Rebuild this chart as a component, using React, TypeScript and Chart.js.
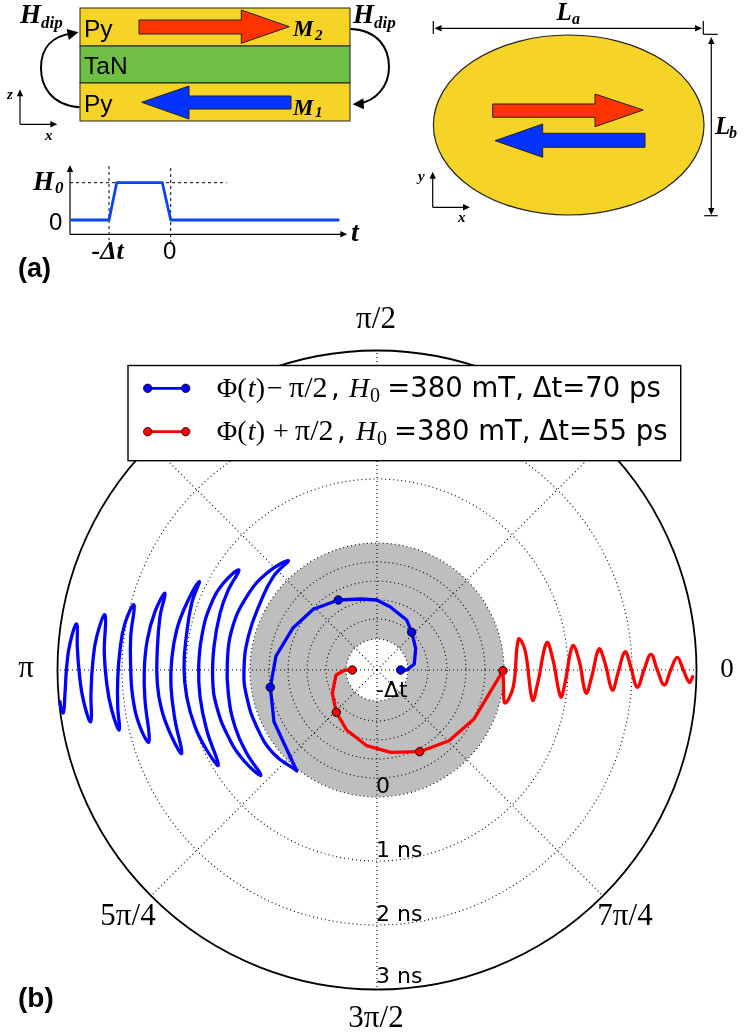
import { useEffect, useRef } from "react";
import { Chart, registerables } from "chart.js";

Chart.register(...registerables);

// Trajectories in polar-plot plane units (pole at 0,0; 1 unit of plane = one screen pixel at this size)
const blueSpiralX = [23.7, 29.7, 37.3, 38.7, 34.7, 29.7, 13, -0.3, -15.3, -38.7, -63.7, -84.3, -101, -106.7, -103, -80.3];
const blueSpiralY = [0, 0, 6, 21.7, 37.7, 50, 63.3, 70, 71, 70, 60.7, 41.7, 14, -17.3, -51.7, -100.7];
const blueMarks = [0, 4, 9, 13];

const blueTailX = [-80.3, -103.7, -120.3, -130.3, -133, -128.7, -117, -103.7, -88.7, -110.3, -130.3, -145.3, -149.7, -148.7, -142, -130.3, -116, -133.7, -148.7, -160.3, -164.3, -163, -157, -148.7, -138, -153.7, -167, -175.3, -178.3, -177, -170.3, -158.7, -170.3, -182, -190.3, -193, -190.3, -185.3, -177.7, -190.3, -200.3, -205.3, -206, -202, -195.3, -205.3, -215.3, -219.7, -219.7, -217, -212, -222, -229.7, -232.7, -232, -228, -237, -244.3, -246.3, -246.3, -243, -252, -257, -259.3, -259.3, -257.7, -265.3, -270.3, -272.7, -272, -280.3, -284.3, -286, -286.3, -293.7, -297.7, -299.7, -300.3, -307, -310.3, -312, -313.7, -316.3, -317];
const blueTailY = [-100.7, -83.3, -56.7, -26.7, 0, 33.3, 66.7, 93.3, 109.3, 96.7, 73.3, 40, 6.7, -23.3, -56.7, -83.3, -105.3, -90, -66.7, -36.7, -10, 23.3, 56.7, 80, 100, 86.7, 63.3, 33.3, 3.3, -26.7, -60, -95, -80, -56.7, -26.7, 3.3, 36.7, 66.7, 88.3, 66.7, 40, 10, -16.7, -50, -83.3, -66.7, -40, -13.3, 20, 53.3, 76.7, 58.3, 30, 0, -30, -71.7, -56.7, -26.7, 3.3, 33.3, 65, 46.7, 20, -10, -36.7, -60, -40, -13.3, 16.7, 55, 33.3, 6.7, -23.3, -51.7, -30, -3.3, 23.3, 46, 26.7, 3.3, -23.3, -42.7, -36.7, -31.7];

const redSpiralX = [-24.7, -32, -41, -44.7, -40.7, -30.3, -10.3, 13.7, 42.7, 72, 97, 126];
const redSpiralY = [0, 0, -5, -23.3, -42.3, -60, -75.7, -82.3, -81.7, -70.7, -49, -0.7];
const redMarks = [0, 4, 8, 11];

const redTailX = [126, 126.5, 128, 136.3, 141.5, 148, 155.5, 161, 169.7, 176, 183.7, 188, 195.7, 202, 209, 214.7, 222, 228, 235.3, 241, 248, 253.7, 260.3, 267, 274, 280.3, 287.3, 293.7, 300.3, 306.3, 312.3, 315.7];
const redTailY = [-0.7, -13, -33, -16.7, 30.7, 20, -30, -11.7, 27.3, 10, -26.7, -13, 24.3, 10, -23, -6.7, 21, 7, -20, -3, 18.3, 3.3, -17.3, 0, 15.7, 0, -15, 0, 12.7, 0, -12.3, -6.7];

// Field pulse: time in units of delta-t, field in units of H0
const pulseTime = [-1.606, -1, -0.876, -0.136, 0, 2.716];
const pulseField = [0, 0, 1, 1, 0, 0];

const blue = "#0000FF";
const red = "#FF0000";
const ringRadii = [31, 51, 70, 89, 108, 127, 191, 255];
const outerRadius = 319.5;
const spokeAngles = [0, 45, 90, 135, 180, 225, 270, 315];

const sans = "'DejaVu Sans'";
const helv = "'Liberation Sans'";
const serif = "'Liberation Serif'";

function zip(xs: number[], ys: number[]) {
  return xs.map((x, i) => ({ x, y: ys[i] }));
}

const overlay = {
  id: "overlay",
  beforeDatasetsDraw(chart: any) {
    const c: CanvasRenderingContext2D = chart.ctx;
    const sx = chart.scales.x;
    const sy = chart.scales.y;
    const cx = sx.getPixelForValue(0);
    const cy = sy.getPixelForValue(0);
    const px = (v: number) => sx.getPixelForValue(v) - cx;
    c.save();
    // annulus
    c.fillStyle = "#BEBEBE";
    c.beginPath();
    c.arc(cx, cy, px(127), 0, Math.PI * 2);
    c.arc(cx, cy, px(31), 0, Math.PI * 2, true);
    c.fill();
    // rings and spokes
    c.strokeStyle = "#000";
    c.lineWidth = 1.1;
    c.setLineDash([1, 3]);
    ringRadii.forEach((r) => {
      c.beginPath();
      c.arc(cx, cy, px(r), 0, Math.PI * 2);
      c.stroke();
    });
    spokeAngles.forEach((a) => {
      const t = (a * Math.PI) / 180;
      c.beginPath();
      c.moveTo(cx, cy);
      c.lineTo(cx + px(outerRadius) * Math.cos(t), cy - px(outerRadius) * Math.sin(t));
      c.stroke();
    });
    c.setLineDash([]);
    c.lineWidth = 1.8;
    c.beginPath();
    c.arc(cx, cy, px(outerRadius), 0, Math.PI * 2);
    c.stroke();
    drawSchematic(c);
    c.restore();
  },
  afterDatasetsDraw(chart: any) {
    const c: CanvasRenderingContext2D = chart.ctx;
    c.save();
    drawLegend(c);
    drawPolarLabels(c);
    c.restore();
  },
};

function text(c: CanvasRenderingContext2D, s: string, x: number, y: number, font: string, align: CanvasTextAlign = "left") {
  c.font = font;
  c.fillStyle = "#000";
  c.textAlign = align;
  c.textBaseline = "alphabetic";
  c.fillText(s, x, y);
}

function block(c: CanvasRenderingContext2D, pts: number[][], fill: string) {
  c.beginPath();
  pts.forEach((p, i) => (i ? c.lineTo(p[0], p[1]) : c.moveTo(p[0], p[1])));
  c.closePath();
  c.fillStyle = fill;
  c.fill();
  c.strokeStyle = "#222";
  c.lineWidth = 1;
  c.stroke();
}

function head(c: CanvasRenderingContext2D, x: number, y: number, angle: number, len = 7, half = 3.2) {
  c.save();
  c.translate(x, y);
  c.rotate(angle);
  c.beginPath();
  c.moveTo(0, 0);
  c.lineTo(-len, -half);
  c.lineTo(-len, half);
  c.closePath();
  c.fillStyle = "#000";
  c.fill();
  c.restore();
}

function seg(c: CanvasRenderingContext2D, x1: number, y1: number, x2: number, y2: number) {
  c.beginPath();
  c.moveTo(x1, y1);
  c.lineTo(x2, y2);
  c.stroke();
}

function drawSchematic(c: CanvasRenderingContext2D) {
  const yellow = "#F5D327";
  const green = "#6FBF44";
  const rred = "#FF3300";
  const rblue = "#0433FF";
  const rect = (x: number, y: number, w: number, h: number, f: string) => {
    c.fillStyle = f;
    c.fillRect(x, y, w, h);
    c.strokeStyle = "#222";
    c.lineWidth = 1;
    c.strokeRect(x, y, w, h);
  };
  rect(80, 8, 270, 38, yellow);
  rect(80, 46, 270, 37, green);
  rect(80, 83, 270, 38, yellow);
  block(c, [[139, 20], [241.3, 20], [241.3, 10], [289.3, 26.7], [241.3, 43.3], [241.3, 34], [139, 34]], rred);
  block(c, [[141.7, 102.3], [189, 86], [189, 96], [291, 96], [291, 109], [189, 109], [189, 119]], rblue);

  text(c, "Py", 84, 36.5, `24.5px ${helv}`);
  text(c, "TaN", 84, 74, `24.5px ${helv}`);
  text(c, "Py", 84, 111.5, `24.5px ${helv}`);

  const bi = (s: number) => `italic bold ${s}px ${serif}`;
  text(c, "H", 20, 23, bi(27));
  text(c, "dip", 41, 28, bi(17));
  text(c, "H", 353, 23, bi(27));
  text(c, "dip", 374, 28, bi(17));
  text(c, "M", 293, 36, bi(23));
  text(c, "2", 315, 40, bi(15));
  text(c, "M", 293, 115, bi(23));
  text(c, "1", 315, 117, bi(15));

  // H_dip loops
  c.strokeStyle = "#000";
  c.lineWidth = 2;
  c.beginPath();
  c.moveTo(79.5, 107.3);
  c.bezierCurveTo(50, 105, 41, 85, 41, 68);
  c.bezierCurveTo(41, 48, 52, 36, 72, 33.5);
  c.stroke();
  head(c, 78.5, 32.3, -0.2, 11, 5.5);
  c.beginPath();
  c.moveTo(350.5, 29);
  c.bezierCurveTo(378, 30, 389, 48, 389, 67);
  c.bezierCurveTo(389, 86, 376, 101, 359, 103.5);
  c.stroke();
  head(c, 352.7, 104.3, Math.PI - 0.05, 11, 5.5);

  // z-x triad
  c.lineWidth = 1.2;
  seg(c, 20, 124.3, 20, 93);
  seg(c, 20, 124.3, 54, 124.3);
  head(c, 20, 89.3, -Math.PI / 2);
  head(c, 57.3, 124.3, 0);
  text(c, "z", 7, 99, `italic bold 15px ${serif}`);
  text(c, "x", 45, 140, `italic bold 15px ${serif}`);

  // pulse axes
  seg(c, 70, 234.3, 70, 170);
  seg(c, 70, 234.3, 343, 234.3);
  head(c, 70, 165, -Math.PI / 2);
  head(c, 347.3, 234.3, 0);
  c.setLineDash([3, 3]);
  c.lineWidth = 1;
  seg(c, 109, 166, 109, 240);
  seg(c, 170.7, 168, 170.7, 243);
  seg(c, 70, 182.7, 226.7, 182.7);
  c.setLineDash([]);
  text(c, "H", 33, 190, bi(27));
  text(c, "0", 55, 193, bi(17));
  text(c, "0", 49, 230, `24px ${helv}`);
  text(c, "-Δt", 91.5, 259, `italic bold 26px ${serif}`);
  text(c, "0", 163, 259, `24px ${helv}`);
  text(c, "t", 351, 241, `italic bold 28px ${serif}`);
  text(c, "(a)", 18, 277, `bold 27px ${helv}`);

  // ellipse
  c.beginPath();
  c.ellipse(568.7, 125, 135.3, 90, 0, 0, Math.PI * 2);
  c.fillStyle = yellow;
  c.fill();
  c.strokeStyle = "#222";
  c.lineWidth = 1.2;
  c.stroke();
  block(c, [[492.7, 104], [595, 104], [595, 94], [643.3, 110], [595, 126.7], [595, 117.3], [492.7, 117.3]], rred);
  block(c, [[495, 140.7], [542.7, 124], [542.7, 133.3], [645, 133.3], [645, 147.3], [542.7, 147.3], [542.7, 157.3]], rblue);

  // dimensions
  c.strokeStyle = "#000";
  c.lineWidth = 1.2;
  seg(c, 433.3, 21, 433.3, 34);
  seg(c, 703.3, 21, 703.3, 34.3);
  seg(c, 703.3, 34.3, 717.7, 34.3);
  seg(c, 437, 28.3, 699, 28.3);
  head(c, 434.5, 28.3, Math.PI);
  head(c, 702, 28.3, 0);
  seg(c, 711.3, 41, 711.3, 211);
  head(c, 711.3, 37, -Math.PI / 2);
  head(c, 711.3, 215, Math.PI / 2);
  seg(c, 704.3, 215.7, 717.7, 215.7);
  text(c, "L", 556.5, 20, bi(25));
  text(c, "a", 572, 24, bi(16));
  text(c, "L", 715, 134, bi(25));
  text(c, "b", 729, 138, bi(16));

  // y-x triad
  seg(c, 432.7, 207.3, 432.7, 175);
  seg(c, 432.7, 207.3, 467, 207.3);
  head(c, 432.7, 171.7, -Math.PI / 2);
  head(c, 470, 207.3, 0);
  text(c, "y", 418, 181, `italic bold 15px ${serif}`);
  text(c, "x", 458, 222, `italic bold 15px ${serif}`);
}

function drawLegend(c: CanvasRenderingContext2D) {
  c.fillStyle = "#fff";
  c.fillRect(128, 365.5, 552.7, 95.2);
  c.strokeStyle = "#000";
  c.lineWidth = 1.4;
  c.strokeRect(128, 365.5, 552.7, 95.2);
  const key = (y: number, col: string) => {
    c.strokeStyle = col;
    c.lineWidth = 2.8;
    seg(c, 147, y, 186, y);
    [147.7, 185.7].forEach((x) => {
      c.beginPath();
      c.arc(x, y, 4.2, 0, Math.PI * 2);
      c.fillStyle = col;
      c.fill();
      c.strokeStyle = "#000";
      c.lineWidth = 0.8;
      c.stroke();
      c.strokeStyle = col;
      c.lineWidth = 2.8;
    });
  };
  key(388.3, blue);
  key(431.7, red);
  const row = (y: number, xs: number[], op: string, tail: string) => {
    const s = `28px ${serif}`;
    const it = `italic 28px ${serif}`;
    const d = `27.5px ${sans}`;
    text(c, "Φ(", xs[0], y, s);
    text(c, "t", xs[0] + 31, y, it);
    text(c, ")", xs[0] + 39, y, s);
    text(c, op, xs[1], y, s);
    text(c, "π/2", xs[2], y, `30px ${serif}`);
    text(c, ",", xs[3], y, d);
    text(c, "H", xs[4], y, it);
    text(c, "0", xs[4] + 21, y + 5, `20px ${serif}`);
    text(c, tail, xs[5], y, d);
  };
  row(397.3, [216.7, 267, 289, 331, 349, 387.3], "−", "=380 mT, Δt=70 ps");
  row(440, [216.7, 273, 295, 337, 356, 394], "+", "=380 mT, Δt=55 ps");
}

function drawPolarLabels(c: CanvasRenderingContext2D) {
  const s = `31px ${serif}`;
  text(c, "π/2", 376, 328, s, "center");
  text(c, "π", 26, 677, s, "center");
  text(c, "0", 727, 677, `27px ${serif}`, "center");
  text(c, "5π/4", 128, 925, s, "center");
  text(c, "7π/4", 625, 925, s, "center");
  text(c, "3π/2", 376, 1027, s, "center");
  const d = `22px ${sans}`;
  text(c, "-Δt", 376, 697, d);
  text(c, "0", 376, 793, d);
  text(c, "1 ns", 376, 856.7, d);
  text(c, "2 ns", 376, 920.7, d);
  text(c, "3 ns", 376, 983.3, d);
  text(c, "(b)", 18, 1007, `bold 28px ${helv}`);
}

export default function App() {
  const ref = useRef<HTMLCanvasElement>(null);
  useEffect(() => {
    const dot = (marks: number[]) => (ctx: any) => (marks.includes(ctx.dataIndex) ? 4.2 : 0);
    const line = (data: any[], color: string, extra: any) => ({
      data,
      showLine: true,
      borderColor: color,
      backgroundColor: color,
      borderWidth: 3.3,
      pointRadius: 0,
      borderJoinStyle: "round",
      borderCapStyle: "round",
      ...extra,
    });
    const chart = new Chart(ref.current!, {
      type: "scatter",
      data: {
        datasets: [
          line(zip(pulseTime, pulseField), "#0A44F5", { xAxisID: "xt", yAxisID: "yh", borderWidth: 2.8 }),
          line(zip(blueTailX, blueTailY), blue, { tension: 0.45, xAxisID: "x", yAxisID: "y" }),
          line(zip(blueSpiralX, blueSpiralY), blue, { pointRadius: dot(blueMarks), pointBorderColor: "#000", pointBorderWidth: 1, xAxisID: "x", yAxisID: "y" }),
          line(zip(redTailX, redTailY), red, { tension: 0.4, xAxisID: "x", yAxisID: "y" }),
          line(zip(redSpiralX, redSpiralY), red, { pointRadius: dot(redMarks), pointBorderColor: "#000", pointBorderWidth: 1, xAxisID: "x", yAxisID: "y" }),
        ] as any,
      },
      options: {
        responsive: false,
        animation: false,
        layout: { padding: 0, autoPadding: false },
        plugins: { legend: { display: false }, tooltip: { enabled: false } },
        scales: {
          x: { type: "linear", display: false, min: -377, max: 370 },
          y: { type: "linear", display: false, min: -366, max: 670 },
          xt: { type: "linear", display: false, min: -2.767, max: 9.34 },
          yh: { type: "linear", display: false, min: -21.877, max: 5.898 },
        },
      },
      plugins: [overlay],
    } as any);
    return () => chart.destroy();
  }, []);
  return <canvas ref={ref} width={747} height={1036} style={{ position: "absolute", left: 0, top: 0, width: 747, height: 1036 }} />;
}
